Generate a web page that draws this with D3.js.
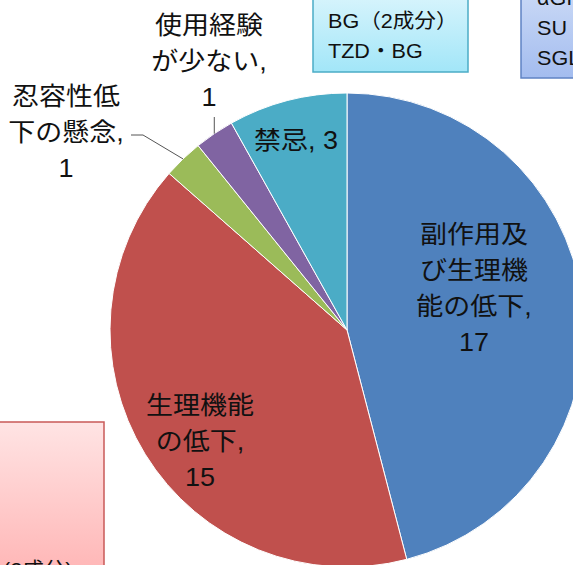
<!DOCTYPE html>
<html>
<head>
<meta charset="utf-8">
<script src="https://cdn.jsdelivr.net/npm/d3@7/dist/d3.min.js"></script>
<style>
  html, body { margin: 0; padding: 0; background: #fff; overflow: hidden; }
  svg { display: block; }
</style>
</head>
<body>
<svg id="chart"></svg>
<script>
/* ── Data ── */
const CATEGORIES  = ['副作用及び生理機能の低下', '生理機能の低下', '忍容性低下の懸念', '使用経験が少ない', '禁忌'];
const VALUES      = [17, 15, 1, 1, 3];
const LABEL_LINES = [
  ['副作用及', 'び生理機', '能の低下,', '17'],
  ['生理機能', 'の低下,', '15'],
  ['忍容性低', '下の懸念,', '1'],
  ['使用経験', 'が少ない,', '1'],
  ['禁忌, 3'],
];
const COLORS = ['#4F81BD', '#C0504D', '#9BBB59', '#8064A2', '#4BACC6'];

// callout boxes around the chart (cropped by the frame)
const BOX_CYAN_TEXT = ['BG（2成分）', 'TZD・BG'];
const BOX_BLUE_TEXT = ['αGI', 'SU', 'SGLT2'];
const BOX_PINK_TEXT = ['(2成分)'];

/* ── Layout ── */
const W = 573, H = 565;
const CX = 347, CY = 330, R = 237;
const FONT = '"Liberation Sans", "Noto Sans CJK JP", sans-serif';
const LINE_H = 36;
const STRETCH = 1.08;   // reference glyphs are a little wider than tall
// label block anchor (centre of first line) per slice
const LABEL_POS = [[474, 234], [200, 405], [66, 96], [209, 25], [296, 140]];

const svg = d3.select('#chart')
  .attr('width', W)
  .attr('height', H)
  .attr('viewBox', `0 0 ${W} ${H}`);

const defs = svg.append('defs');
function grad(id, top, bottom) {
  const g = defs.append('linearGradient').attr('id', id)
    .attr('x1', 0).attr('y1', 0).attr('x2', 0).attr('y2', 1);
  g.append('stop').attr('offset', '0%').attr('stop-color', top);
  g.append('stop').attr('offset', '100%').attr('stop-color', bottom);
}
grad('gCyan', '#E2F7FD', '#A2E6F8');
grad('gBlue', '#CFDDF7', '#A3BCEF');
grad('gPink', '#FFE4E4', '#FFB0B0');

/* ── Boxes ── */
function box(x, y, w, h, fill, stroke, lines, tx, ty0, fs) {
  const g = svg.append('g');
  g.append('rect')
    .attr('x', x).attr('y', y).attr('width', w).attr('height', h)
    .attr('fill', `url(#${fill})`)
    .attr('stroke', stroke)
    .attr('stroke-width', 1.5);
  g.selectAll('text')
    .data(lines)
    .join('text')
    .attr('transform', (d, i) => `translate(${tx},${ty0 + i * 30}) scale(${STRETCH},1)`)
    .attr('font-family', FONT)
    .attr('font-size', fs)
    .attr('fill', '#111')
    .text(d => d);
}
box(313, -20, 155, 92, 'gCyan', '#4BACC6', BOX_CYAN_TEXT, 328, 28, 20);
box(521, -20, 80, 98, 'gBlue', '#5F83C4', BOX_BLUE_TEXT, 537, 5, 20);
box(-20, 422, 124, 170, 'gPink', '#C95A58', BOX_PINK_TEXT, 3, 577, 20);

/* ── Pie ── */
const pie = d3.pie().sort(null).value(d => d);
const arcs = pie(VALUES);
const arc = d3.arc().innerRadius(0).outerRadius(R);

const g = svg.append('g').attr('transform', `translate(${CX},${CY})`);

g.selectAll('path.slice')
  .data(arcs)
  .join('path')
  .attr('class', 'slice')
  .attr('d', arc)
  .attr('fill', (d, i) => COLORS[i])
  .attr('stroke', '#fff')
  .attr('stroke-width', 1);

/* ── Leader lines for outside labels ── */
const edge = d => {
  const a = (d.startAngle + d.endAngle) / 2;
  return [CX + R * Math.sin(a), CY - R * Math.cos(a)];
};
// 使用経験: straight up from the slice edge
{
  const [ex, ey] = edge(arcs[3]);
  svg.append('path')
    .attr('d', d3.line()([[ex, ey], [ex, 117]]))
    .attr('fill', 'none').attr('stroke', '#555').attr('stroke-width', 1);
}
// 忍容性低下: elbow to the comma of the label
{
  const [ex, ey] = edge(arcs[2]);
  svg.append('path')
    .attr('d', d3.line()([[ex, ey], [143, 135], [131, 135]]))
    .attr('fill', 'none').attr('stroke', '#555').attr('stroke-width', 1);
}

/* ── Labels ── */
LABEL_LINES.forEach((lines, i) => {
  const [lx, ly] = LABEL_POS[i];
  svg.append('g')
    .selectAll('text')
    .data(lines)
    .join('text')
    .attr('transform', (d, j) => `translate(${lx},${ly + j * LINE_H}) scale(${STRETCH},1)`)
    .attr('text-anchor', 'middle')
    .attr('dominant-baseline', 'central')
    .attr('font-family', FONT)
    .attr('font-size', 25)
    .attr('fill', '#111')
    .text(d => d);
});
</script>
</body>
</html>
